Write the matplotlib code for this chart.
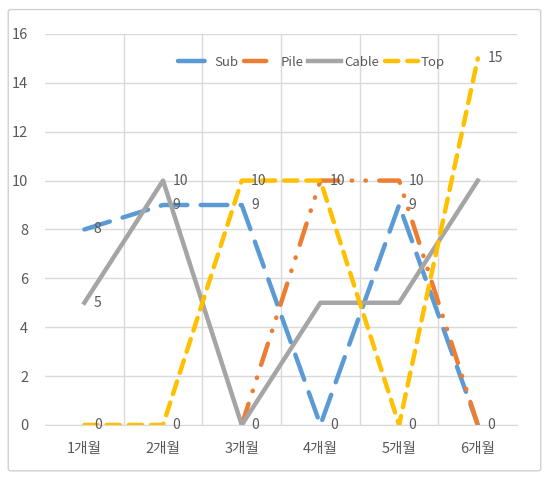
import numpy as np
import matplotlib.pyplot as plt
from matplotlib.patches import FancyBboxPatch

plt.rcParams['font.family'] = ['Noto Sans CJK KR', 'DejaVu Sans']

months = ['1개월', '2개월', '3개월', '4개월', '5개월', '6개월']
sub = [8, 9, 9, 0, 9, 0]
pile = [np.nan, np.nan, 0, 10, 10, 0]
cable = [5, 10, 0, 5, 5, 10]
top = [0, 0, 10, 10, 0, 15]
# which data labels are visible in the original
show_sub = [1, 1, 1, 1, 1, 1]
show_pile = [0, 0, 0, 1, 1, 0]
show_cable = [1, 1, 1, 0, 0, 0]
show_top = [1, 1, 1, 0, 1, 1]

x = np.arange(len(months))
fig = plt.figure(figsize=(5.49, 4.78), dpi=100)
ax = fig.add_axes([0.082, 0.111, 0.860, 0.818])

# outer chart border
fig.patches.append(FancyBboxPatch((0.015, 0.015), 0.97, 0.965, boxstyle='round,pad=0,rounding_size=0.005',
                                  transform=fig.transFigure, fill=False, ec='#d0d0d0', lw=1))

ax.plot(x, sub, color='#5b9bd5', lw=3.2, ls=(0, (6, 3)), dash_capstyle='round', label='Sub')
ax.plot(x, pile, color='#ed7d31', lw=3.2, ls=(0, (5, 3, 0.1, 3, 0.1, 3)), dash_capstyle='round', label='Pile')
ax.plot(x, cable, color='#a5a5a5', lw=3.2, label='Cable')
ax.plot(x, top, color='#ffc000', lw=3.2, ls=(0, (3, 2)), dash_capstyle='round', label='Top')

for series, show in [(sub, show_sub), (pile, show_pile), (cable, show_cable), (top, show_top)]:
    for a, b, s in zip(x, series, show):
        if s:
            ax.text(a + 0.12, b, '%d' % b, ha='left', va='center', fontsize=10, color='#595959')

ax.set_xlim(-0.5, 5.5)
ax.set_ylim(0, 16)
ax.set_yticks(range(0, 17, 2))
ax.set_xticks(x)
ax.set_xticklabels(months)
ax.set_xticks(x[:-1] + 0.5, minor=True)
ax.grid(True, axis='y', color='#d9d9d9', lw=1)
ax.grid(True, axis='x', which='minor', color='#d9d9d9', lw=1)
ax.set_axisbelow(True)
for s in ['top', 'right', 'left']:
    ax.spines[s].set_visible(False)
ax.spines['bottom'].set_color('#d9d9d9')
ax.tick_params(axis='both', which='both', length=0, labelsize=10.5, labelcolor='#595959')
ax.tick_params(axis='x', pad=12)
ax.tick_params(axis='y', pad=12)

ax.legend(loc='center', bbox_to_anchor=(0.565, 0.928), ncol=4, frameon=False, fontsize=9.5,
          handlelength=2.5, columnspacing=0.4, handletextpad=0.25, labelcolor='#595959')

fig.savefig('out.png', dpi=100)
